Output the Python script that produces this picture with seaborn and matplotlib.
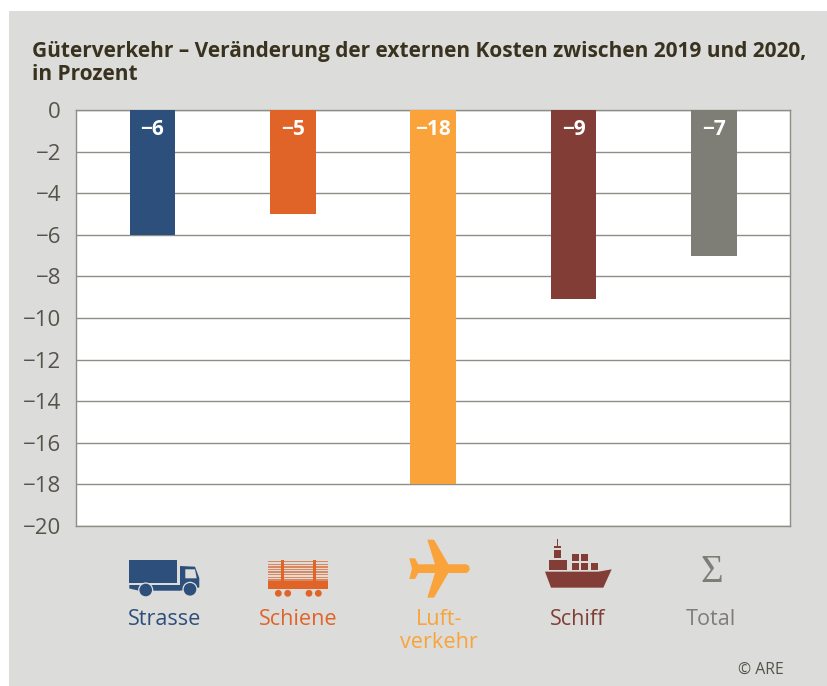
import numpy as np
import pandas as pd
import seaborn as sns
import matplotlib.pyplot as plt
from matplotlib.patches import Rectangle, Polygon, Circle

# values
categories = ["Strasse", "Schiene", "Luftverkehr", "Schiff", "Total"]
values = [-6, -5, -18, -9.1, -7]
bar_labels = ["−6", "−5", "−18", "−9", "−7"]
axis_labels = ["Strasse", "Schiene", "Luft-\nverkehr", "Schiff", "Total"]
y_ticks = [0, -2, -4, -6, -8, -10, -12, -14, -16, -18, -20]
y_tick_labels = ["0", "−2", "−4", "−6", "−8", "−10", "−12", "−14", "−16", "−18", "−20"]
colors = ["#2c4f7c", "#e06328", "#f9a33a", "#823e36", "#7f7e76"]

panel_color = "#dcdcda"
grid_color = "#8e8e87"
text_color = "#38321f"
tick_color = "#55534a"

W, H = 828, 686
sns.set_theme(style="white")
plt.rcParams["font.family"] = ["Open Sans", "DejaVu Sans"]

fig = plt.figure(figsize=(W / 100, H / 100), dpi=100, facecolor="white")

# overlay in pixel coordinates for the panel, icons and loose text
bg = fig.add_axes([0, 0, 1, 1], zorder=0)
bg.set_xlim(0, W)
bg.set_ylim(H, 0)
bg.axis("off")
bg.add_patch(Rectangle((9, 11), W - 9, H - 11, color=panel_color, lw=0))

bg.text(32, 51, "Güterverkehr – Veränderung der externen Kosten zwischen 2019 und 2020,",
        fontsize=15.05, fontweight="bold", color=text_color, va="center", ha="left")
bg.text(32, 75, "in Prozent", fontsize=15.05, fontweight="bold", color=text_color,
        va="center", ha="left")

# chart
left, right, top, bottom = 75.7, 790, 110.3, 525.7
ax = fig.add_axes([left / W, 1 - bottom / H, (right - left) / W, (bottom - top) / H], zorder=1)
df = pd.DataFrame({"mode": categories, "change": values})
sns.barplot(data=df, x="mode", y="change", hue="mode", palette=colors, dodge=False,
            saturation=1, width=0.324, legend=False, ax=ax, zorder=3, linewidth=0)
ax.set_xlim(-0.547, 4.542)
ax.set_ylim(-20, 0)
ax.set_xticks([])
ax.set_xlabel("")
ax.set_ylabel("")
ax.set_yticks(y_ticks)
ax.set_yticklabels(y_tick_labels, fontsize=16, color=tick_color)
ax.tick_params(axis="y", length=0, pad=10.5)
ax.yaxis.grid(True, color=grid_color, lw=1.0, zorder=1)
ax.set_axisbelow(True)
ax.set_facecolor("white")
for s in ax.spines.values():
    s.set_color(grid_color)
    s.set_linewidth(1.0)
for i, lab in enumerate(bar_labels):
    ax.annotate(lab, (i, 0), xytext=(0, -14), textcoords="offset points", ha="center",
                va="center", color="white", fontsize=15, fontweight="bold", zorder=5)

# category names under the chart
label_x = [165, 298, 439, 578, 711]
for x, lab, c in zip(label_x, axis_labels, colors):
    bg.text(x, 609, lab, fontsize=15.6, color=c, ha="center", va="top", linespacing=1.12)

# truck
c = colors[0]
bg.add_patch(Rectangle((129.3, 560.3), 47.4, 23, color=c, lw=0))
bg.add_patch(Polygon([(180, 566), (195, 566.7), (199.3, 578), (199.3, 587.5), (180, 590.7)], color=c, lw=0))
bg.add_patch(Polygon([(129.3, 585), (180, 585), (180, 590.7), (139, 590.7), (129.3, 588.5)], color=c, lw=0))
bg.add_patch(Polygon([(185.3, 569.3), (195, 569.3), (196.7, 578.3), (185.3, 578.3)], color=panel_color, lw=0))
for wx, wy in [(145.7, 590), (190, 589.3)]:
    bg.add_patch(Circle((wx, wy), 7.6, color=panel_color, lw=0))
    bg.add_patch(Circle((wx, wy), 6.3, color=c, lw=0))

# rail wagon
c = colors[1]
for y in np.arange(561, 581, 2.6):
    bg.add_patch(Rectangle((268.3, y), 60, 1.3, color=c, alpha=0.7, lw=0))
bg.add_patch(Rectangle((281, 559.5), 3, 22, color=c, lw=0))
bg.add_patch(Rectangle((312.7, 559.5), 3.2, 22, color=c, lw=0))
bg.add_patch(Rectangle((268.3, 581), 60, 8.3, color=c, lw=0))
for wx in [278.3, 287.7, 309, 318.3]:
    bg.add_patch(Circle((wx, 593.3), 3.4, color=c, lw=0))

# plane
c = colors[2]
plane = [(28, 70), (45, 70), (55, 88), (105, 88), (82, 14), (102, 14), (145, 88), (196, 88),
         (196, 114), (145, 114), (102, 188), (82, 188), (105, 114), (55, 114), (45, 132),
         (28, 132), (36, 101)]
bg.add_patch(Polygon([(400 + x / 3, 535 + y / 3) for x, y in plane], color=c, lw=0))
bg.add_patch(Circle((400 + 196 / 3, 535 + 101 / 3), 13 / 3, color=c, lw=0))

# ship
c = colors[3]
hull = [(30, 110), (190, 110), (230, 103), (205, 158), (48, 158)]
bg.add_patch(Polygon([(535 + x / 3, 535 + y / 3) for x, y in hull], color=c, lw=0))
boxes = [(41, 76, 54, 29), (58, 45, 20, 25), (58, 33, 20, 7), (65, 13, 5, 22), (111, 58, 21, 19),
         (139, 58, 21, 19), (111, 84, 21, 21), (139, 84, 21, 21), (167, 84, 21, 21)]
for x, y, w, h in boxes:
    bg.add_patch(Rectangle((535 + x / 3, 535 + y / 3), w / 3, h / 3, color=c, lw=0))

# sum sign
bg.text(712, 573, "Σ", fontsize=28, color=colors[4], ha="center", va="center",
        family="Liberation Serif")

bg.text(784, 670, "© ARE", fontsize=11.4, color=tick_color, ha="right", va="center")

fig.savefig("out.png", dpi=100, facecolor="white")
